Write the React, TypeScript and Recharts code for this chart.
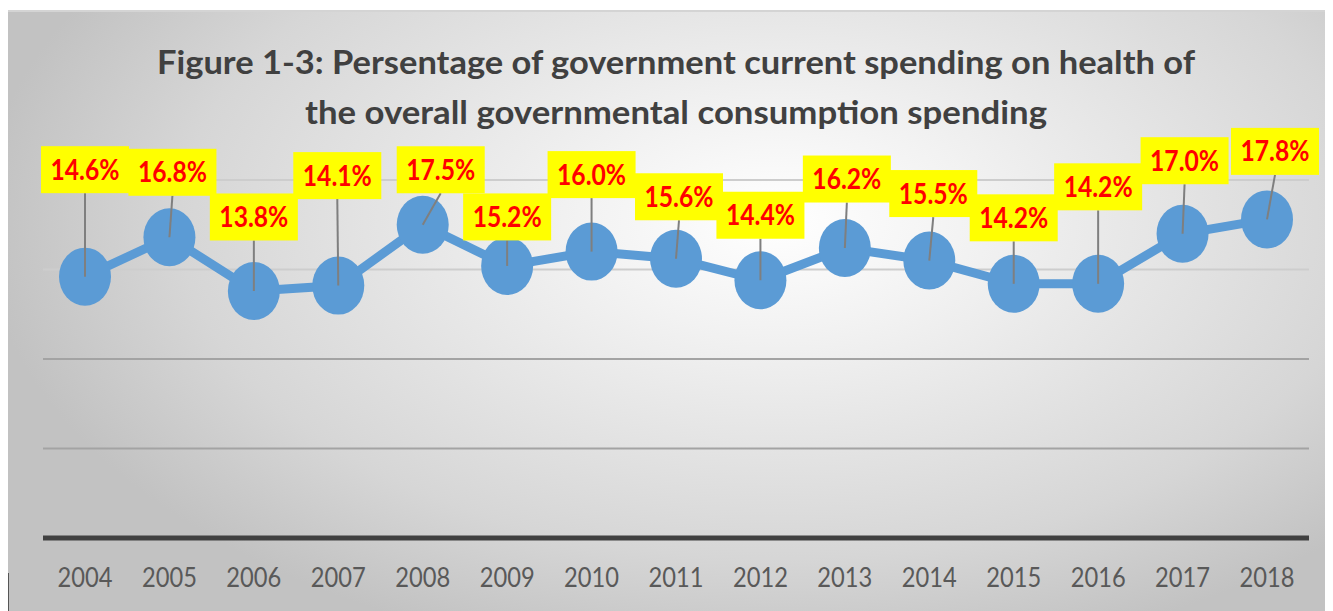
import React from 'react';
import { LineChart, Line, XAxis, YAxis, CartesianGrid } from 'recharts';

const YEARS = ['2004', '2005', '2006', '2007', '2008', '2009', '2010', '2011', '2012', '2013', '2014', '2015', '2016', '2017', '2018'];
const SHARES = [14.6, 16.8, 13.8, 14.1, 17.5, 15.2, 16.0, 15.6, 14.4, 16.2, 15.5, 14.2, 14.2, 17.0, 17.8];
const VALUE_TICKS = [0, 5, 10, 15, 20];
const DARK_GRID_VALUES = [5, 10];
const LIGHT_GRID_VALUES = [15, 20];
const TITLE_LINES = [
  'Figure 1-3: Persentage of government current spending on health of',
  'the overall governmental consumption spending',
];

// layout: offset (px) of each data label's centre from its point
const LABEL_OFFSETS: [number, number][] = [
  [0, -107], [3, -65], [0, -74], [-1, -110], [18, -55], [0, -49], [0, -77], [3, -62],
  [0, -65], [2, -69], [4, -67], [0, -66], [0, -97], [2, -73], [8, -68],
];

const data = YEARS.map((year, i) => ({ year, share: SHARES[i] }));

const W = 1325;
const H = 601;

const renderDot = (props: any) => {
  const { cx, cy, index, payload } = props;
  if (cx == null || cy == null) return <g key={`d-${index}`} />;
  const [dx, dy] = LABEL_OFFSETS[index] || [0, -70];
  const lx = cx + dx;
  const ly = cy + dy;
  const label = `${payload.share.toFixed(1)}%`;
  return (
    <g key={`d-${index}`}>
      <ellipse cx={cx} cy={cy} rx={26} ry={29} fill="#5B9BD5" />
      <line x1={cx} y1={cy} x2={lx} y2={ly + 23.5} stroke="#7f7f7f" strokeWidth={2} />
      <rect x={lx - 44} y={ly - 23.5} width={88} height={47} fill="#FFFF00" />
      <text
        x={lx}
        y={ly + 10}
        textAnchor="middle"
        fill="#FF0000"
        fontWeight="bold"
        fontSize={28}
        fontFamily="Lato"
        textLength={69}
        lengthAdjust="spacingAndGlyphs"
      >
        {label}
      </text>
    </g>
  );
};

const renderTick = (props: any) => {
  const { x, y, payload } = props;
  return (
    <text
      x={x}
      y={y + 41}
      textAnchor="middle"
      fill="#595959"
      fontFamily="Lato"
      fontSize={27}
      textLength={55}
      lengthAdjust="spacingAndGlyphs"
    >
      {String(payload.value)}
    </text>
  );
};

export default function App() {
  return (
    <div style={{ paddingTop: 2 }}>
      <div
        style={{
          position: 'relative',
          width: W,
          height: H,
          background:
            'radial-gradient(ellipse 60% 75% at 58% 35%, #ffffff 0%, #f2f2f2 25%, #d6d6d6 75%, #c2c2c2 100%)',
        }}
      >
        <div style={{ position: 'absolute', left: 0, top: 0, width: W, height: 2, background: '#d4d4d4' }} />
        <div style={{ position: 'absolute', left: 0, top: 563, width: 1, height: 38, background: '#555555' }} />
        <LineChart
          width={W}
          height={H}
          data={data}
          margin={{ top: 170, right: 24, left: 35, bottom: 0 }}
        >
          <CartesianGrid
            vertical={false}
            horizontalValues={DARK_GRID_VALUES}
            stroke="#a3a3a3"
            strokeWidth={2}
          />
          <CartesianGrid
            vertical={false}
            horizontalValues={LIGHT_GRID_VALUES}
            stroke="#cdcdcd"
            strokeWidth={2}
          />
          <XAxis
            dataKey="year"
            height={73}
            padding={{ left: 42, right: 42 }}
            axisLine={{ stroke: '#404040', strokeWidth: 5 }}
            tickLine={false}
            tick={renderTick}
            interval={0}
          />
          <YAxis hide domain={[0, 20]} ticks={VALUE_TICKS} />
          <Line
            type="linear"
            dataKey="share"
            stroke="#5B9BD5"
            strokeWidth={9}
            dot={renderDot}
            activeDot={false}
            isAnimationActive={false}
          />
        </LineChart>
        <svg
          width={W}
          height={140}
          style={{ position: 'absolute', left: 0, top: 0, pointerEvents: 'none' }}
        >
          <text
            x={668}
            y={64}
            textAnchor="middle"
            fill="#404040"
            fontFamily="Lato"
            fontWeight="bold"
            fontSize={33}
            textLength={1038}
            lengthAdjust="spacingAndGlyphs"
          >
            {TITLE_LINES[0]}
          </text>
          <text
            x={668}
            y={114}
            textAnchor="middle"
            fill="#404040"
            fontFamily="Lato"
            fontWeight="bold"
            fontSize={33}
            textLength={742}
            lengthAdjust="spacingAndGlyphs"
          >
            {TITLE_LINES[1]}
          </text>
        </svg>
      </div>
    </div>
  );
}
